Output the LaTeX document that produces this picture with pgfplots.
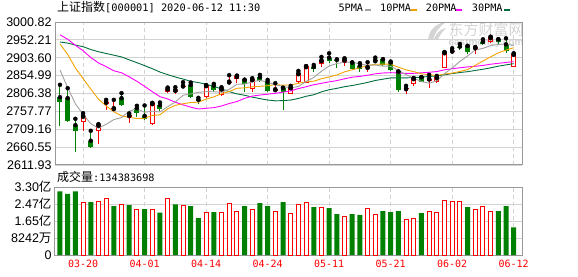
\documentclass[border=0pt]{standalone}
\usepackage{fontspec}
\setmainfont{Liberation Sans}
\newfontfamily\cjk{Noto Sans CJK SC}
\newfontfamily\mono{DejaVu Sans Mono}
\usepackage{pgfplots}
\pgfplotsset{compat=1.18}
\usepackage{pgfplotstable}

\definecolor{upred}{HTML}{FF0000}
\definecolor{dngreen}{HTML}{008000}
\definecolor{ma5c}{HTML}{A0A0A0}
\definecolor{ma10c}{HTML}{F5A200}
\definecolor{ma20c}{HTML}{FF00FF}
\definecolor{ma30c}{HTML}{006E3C}
\definecolor{framec}{HTML}{999999}
\definecolor{gridc}{HTML}{D2D2D2}
\definecolor{wmc}{HTML}{D4D4D4}

\pgfplotstableread{
i O H L C
3 2728.6 2753.0 2703.2 2745.7
5 2703.2 2723.1 2668.9 2721.3
6 2776.5 2789.1 2760.2 2783.7
7 2763.8 2789.1 2757.5 2766.5
9 2741.2 2752.1 2725.9 2747.6
12 2723.1 2781.0 2722.0 2780.1
14 2809.1 2822.6 2806.4 2819.9
15 2809.1 2823.5 2805.5 2816.3
16 2826.2 2837.1 2820.8 2828.1
19 2796.4 2829.5 2793.7 2829.0
21 2803.6 2823.5 2800.0 2819.9
22 2837.1 2856.1 2832.6 2838.9
23 2845.2 2855.0 2836.2 2854.3
25 2818.1 2848.0 2811.8 2845.2
28 2814.5 2834.4 2809.1 2818.1
30 2805.5 2827.2 2805.0 2823.5
31 2837.1 2867.8 2836.0 2861.5
32 2836.2 2881.0 2834.4 2880.5
34 2886.0 2905.8 2879.6 2896.8
37 2888.7 2902.2 2881.4 2898.6
40 2875.1 2891.4 2866.0 2878.7
41 2895.0 2904.0 2888.7 2896.8
45 2819.0 2827.2 2805.5 2820.8
46 2832.6 2848.5 2828.1 2848.0
48 2841.6 2857.0 2822.6 2847.1
49 2838.9 2854.3 2834.4 2850.7
50 2875.1 2919.0 2874.5 2918.5
51 2920.3 2929.4 2913.1 2923.0
54 2928.5 2932.5 2914.0 2932.1
56 2945.6 2961.0 2945.0 2959.2
59 2879.6 2915.8 2877.8 2914.0
}\upc

\pgfplotstableread{
i O H L C
0 2796.4 2829.9 2716.8 2781.9
1 2793.7 2820.8 2728.0 2730.4
2 2720.4 2737.6 2646.3 2703.2
4 2677.9 2705.0 2657.1 2659.8
8 2793.7 2807.3 2772.0 2773.8
10 2766.5 2772.9 2743.0 2752.1
11 2745.7 2773.8 2733.1 2736.7
13 2774.7 2781.9 2757.5 2763.8
17 2829.9 2836.2 2792.8 2798.2
18 2789.1 2794.6 2777.4 2785.5
20 2828.1 2832.6 2811.8 2815.4
24 2843.4 2844.0 2811.8 2831.7
26 2850.7 2857.0 2837.1 2841.6
27 2838.0 2843.4 2810.0 2812.7
29 2821.7 2822.0 2760.2 2811.8
33 2878.7 2884.1 2866.0 2872.4
35 2904.0 2915.8 2888.7 2895.0
36 2897.7 2899.5 2875.1 2895.0
38 2890.5 2891.0 2870.6 2872.4
39 2882.3 2888.7 2866.0 2872.4
42 2899.5 2899.5 2881.4 2884.1
43 2890.5 2893.2 2868.8 2870.6
44 2866.0 2866.5 2811.8 2816.3
47 2850.7 2851.0 2837.1 2838.9
52 2933.9 2941.1 2924.8 2929.4
53 2935.7 2936.0 2913.1 2920.3
55 2947.4 2953.8 2938.4 2941.1
57 2953.8 2954.0 2941.1 2947.4
58 2940.2 2956.5 2915.8 2923.0
}\dnc

\pgfplotstableread{
i ma5 ma10 ma20 ma30
0 2870.1 2940.9 2966.1 2946.4
1 2822.5 2912.7 2953.8 2943.5
2 2778.4 2875.9 2937.5 2938.1
3 2750.1 2847.0 2922.8 2933.7
4 2724.2 2818.6 2904.2 2926.0
5 2712.1 2791.1 2889.6 2920.0
6 2722.7 2772.6 2879.4 2915.2
7 2735.4 2756.9 2868.2 2910.6
8 2741.0 2745.6 2862.8 2905.8
9 2758.6 2741.4 2851.7 2897.9
10 2764.7 2738.4 2839.6 2890.2
11 2755.3 2739.0 2825.9 2882.2
12 2758.1 2746.7 2811.3 2873.9
13 2756.1 2748.5 2797.8 2864.7
14 2770.5 2764.6 2791.6 2857.7
15 2783.4 2774.1 2782.6 2851.1
16 2801.6 2778.5 2775.6 2845.8
17 2805.3 2781.7 2769.3 2839.3
18 2809.6 2782.8 2764.2 2836.2
19 2811.4 2791.0 2766.2 2831.4
20 2811.2 2797.3 2767.9 2825.5
21 2809.6 2805.6 2772.3 2819.1
22 2817.7 2811.5 2779.1 2811.4
23 2831.5 2820.6 2784.5 2805.4
24 2832.0 2821.7 2793.1 2801.6
25 2838.0 2824.6 2799.3 2796.6
26 2842.3 2826.0 2802.2 2792.4
27 2837.1 2827.4 2804.5 2788.7
28 2829.9 2830.7 2806.8 2786.4
29 2825.9 2829.0 2810.0 2787.1
30 2821.5 2829.8 2813.5 2788.5
31 2825.5 2833.9 2819.8 2792.9
32 2839.1 2838.1 2824.8 2798.8
33 2849.9 2839.9 2830.2 2803.0
34 2866.9 2846.4 2834.1 2810.9
35 2881.2 2851.4 2838.0 2816.7
36 2887.9 2856.7 2841.4 2820.4
37 2891.6 2865.3 2846.4 2824.8
38 2891.6 2870.8 2850.7 2828.1
39 2886.7 2876.8 2852.9 2832.2
40 2883.4 2882.3 2856.1 2836.5
41 2883.8 2885.9 2859.9 2841.8
42 2880.9 2886.2 2862.2 2845.3
43 2880.5 2886.0 2863.0 2848.8
44 2869.3 2878.0 2862.2 2848.7
45 2857.7 2870.6 2861.0 2848.9
46 2848.0 2865.9 2861.3 2849.5
47 2838.9 2859.9 2862.6 2850.9
48 2834.2 2857.4 2864.1 2852.9
49 2841.1 2855.2 2866.0 2853.7
50 2860.6 2859.2 2870.8 2857.1
51 2875.6 2861.8 2873.8 2860.5
52 2893.7 2866.3 2876.3 2863.5
53 2908.4 2871.3 2878.7 2865.7
54 2924.7 2882.9 2880.4 2869.1
55 2929.2 2894.9 2882.7 2872.3
56 2936.4 2906.0 2886.0 2876.2
57 2940.0 2916.9 2888.4 2880.7
58 2940.6 2924.5 2890.9 2884.2
59 2936.9 2930.8 2893.0 2887.6
}\ma

% volume in millions
\pgfplotstableread{
i v
3 256
5 261
6 274
8 246
10 222
12 222
14 274
16 242
19 208
21 208
22 251
23 213
25 222
28 213
30 203
31 246
32 256
34 232
37 189
40 227
41 198
45 174
46 179
48 213
49 208
50 266
51 261
52 261
54 222
55 237
56 213
}\volr

\pgfplotstableread{
i v
0 309
1 296
2 309
4 256
7 237
9 242
11 222
13 205
15 246
17 237
18 179
20 208
24 237
26 251
27 237
29 256
33 232
35 227
36 198
38 198
39 194
42 213
43 208
44 213
47 203
53 232
57 213
58 237
59 134.4
}\volg

\begin{document}
\begin{tikzpicture}
\useasboundingbox (0pt,0pt) rectangle (578pt,276pt);

% watermark
\fill[wmc] (428pt,236pt) .. controls (429pt,246pt) and (436pt,253pt) .. (446pt,254pt)
  .. controls (440pt,250pt) and (435pt,244pt) .. (433pt,236pt) -- cycle;
\fill[wmc] (434pt,237pt) .. controls (437pt,244pt) and (441pt,247pt) .. (446pt,248pt)
  .. controls (443pt,245pt) and (440pt,241pt) .. (438pt,237pt) -- cycle;
\node[text=wmc, font=\cjk\fontsize{15}{15}\selectfont, inner sep=0] at (486pt,246pt) {东方财富网};
\node[text=wmc, font=\fontsize{10}{10}\selectfont\bfseries, inner sep=0] at (486pt,232.5pt) {eastmoney.com};

\begin{axis}[
  at={(55pt,111pt)}, anchor=south west, scale only axis,
  width=467pt, height=143pt,
  xmin=-0.65, xmax=60.08, ymin=2611.93, ymax=3000.82,
  axis line style={draw=framec, line width=1pt},
  xtick={3,11,19,27,35,43,51,59}, xticklabels={},
  ytick={2611.93,2660.55,2709.16,2757.77,2806.38,2854.99,2903.60,2952.21,3000.82},
  yticklabels={2611.93,2660.55,2709.16,2757.77,2806.38,2854.99,2903.60,2952.21,3000.82},
  major tick length=0pt,
  xmajorgrids, ymajorgrids,
  x grid style={draw=gridc, dash pattern=on 4pt off 3pt, line width=0.8pt},
  y grid style={draw=gridc, line width=0.8pt},
  yticklabel style={font=\fontsize{12.5}{13}\selectfont},
]
% wicks
\addplot[only marks, mark=none, error bars/.cd, y dir=minus, y explicit, error mark=none,
  error bar style={draw=upred, line width=1pt}]
  table[x=i, y=H, y error expr=\thisrow{H}-\thisrow{L}] {\upc};
\addplot[only marks, mark=none, error bars/.cd, y dir=minus, y explicit, error mark=none,
  error bar style={draw=dngreen, line width=1pt}]
  table[x=i, y=H, y error expr=\thisrow{H}-\thisrow{L}] {\dnc};
% bodies
\addplot[only marks, mark=none, error bars/.cd, y dir=minus, y explicit, error mark=none,
  error bar style={draw=dngreen, line width=5pt}]
  table[x=i, y=O, y error expr=\thisrow{O}-\thisrow{C}] {\dnc};
\addplot[only marks, mark=none, error bars/.cd, y dir=minus, y explicit, error mark=none,
  error bar style={draw=upred, line width=5pt}]
  table[x=i, y=C, y error expr=\thisrow{C}-\thisrow{O}] {\upc};
\addplot[only marks, mark=none, error bars/.cd, y dir=minus, y explicit, error mark=none,
  error bar style={draw=white, line width=3pt}]
  table[x=i, y expr=\thisrow{C}-2.72, y error expr={max(\thisrow{C}-\thisrow{O}-5.44,0)}] {\upc};
% moving averages
\addplot[ma30c, line width=0.9pt, mark=none] table[x=i, y=ma30] {\ma};
\addplot[ma20c, line width=0.9pt, mark=none] table[x=i, y=ma20] {\ma};
\addplot[ma10c, line width=0.9pt, mark=none] table[x=i, y=ma10] {\ma};
\addplot[ma5c, line width=0.9pt, mark=none] table[x=i, y=ma5] {\ma};
\end{axis}

\begin{axis}[
  at={(55pt,21pt)}, anchor=south west, scale only axis,
  width=467pt, height=68pt,
  xmin=-0.65, xmax=60.08, ymin=0, ymax=329.68,
  axis line style={draw=framec, line width=1pt},
  xtick={3,11,19,27,35,43,51,59},
  xticklabels={03-20,04-01,04-14,04-24,05-11,05-21,06-02,06-12},
  xticklabel style={font=\mono\fontsize{10}{10}\selectfont, text=upred, yshift=-2pt},
  ytick={0,82.42,164.84,247.26,329.68},
  yticklabels={0,8242{\cjk 万},1.65{\cjk 亿},2.47{\cjk 亿},\raisebox{-4pt}{3.30{\cjk 亿}}},
  major tick length=0pt,
  xmajorgrids, ymajorgrids,
  x grid style={draw=gridc, dash pattern=on 4pt off 3pt, line width=0.8pt},
  y grid style={draw=gridc, line width=0.8pt},
  yticklabel style={font=\fontsize{12.5}{13}\selectfont},
]
\addplot[ybar, bar width=5pt, bar shift=0pt, draw=none, fill=dngreen] table[x=i, y=v] {\volg};
\addplot[ybar, bar width=4pt, bar shift=0pt, draw=upred, fill=white, line width=1pt] table[x=i, y=v] {\volr};
\end{axis}

% title
\node[anchor=base west, inner sep=0] at (57pt,264pt)
  {{\cjk\fontsize{12}{12}\selectfont 上证指数}{\mono\fontsize{10.3}{10}\selectfont [000001] 2020-06-12 11:30}};
% legend
\begin{scope}[every node/.style={anchor=base west, inner sep=0, font=\mono\fontsize{10.2}{10}\selectfont}]
\node at (338.3pt,264pt) {5PMA};
\draw[ma5c, line width=2pt] (365pt,266pt) -- (371pt,266pt);
\node at (380pt,264pt) {10PMA};
\draw[ma10c, line width=2pt] (410.7pt,266pt) -- (416.7pt,266pt);
\node at (425.7pt,264pt) {20PMA};
\draw[ma20c, line width=2pt] (456pt,266pt) -- (462pt,266pt);
\node at (471.7pt,264pt) {30PMA};
\draw[ma30c, line width=2pt] (504pt,266pt) -- (510pt,266pt);
\end{scope}
% volume caption
\node[anchor=base west, inner sep=0] at (57pt,94.3pt)
  {{\cjk\fontsize{12}{12}\selectfont 成交量}{\mono\fontsize{10.2}{10}\selectfont :134383698}};
\end{tikzpicture}
\end{document}
